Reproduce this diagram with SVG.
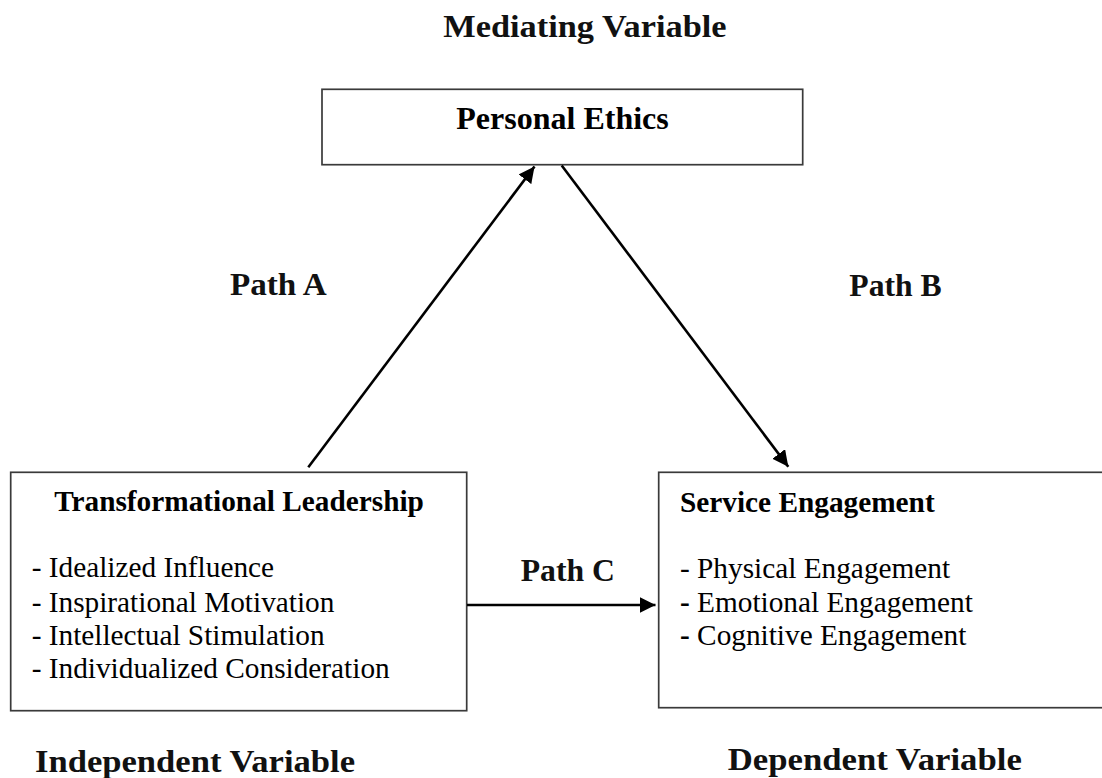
<svg xmlns="http://www.w3.org/2000/svg" width="1102" height="778" viewBox="0 0 1102 778">
  <style>
    .box { fill: #ffffff; stroke: #3a3a3a; stroke-width: 1.7; }
    .edge { fill: none; stroke: #000000; stroke-width: 2.6; }
    .label { font-family: "Liberation Serif", "Times New Roman", serif; font-weight: bold; font-size: 31.5px; fill: #111111; }
    .title { font-family: "Liberation Serif", "Times New Roman", serif; font-weight: bold; fill: #000000; }
    .item { font-family: "Liberation Serif", "Times New Roman", serif; font-size: 29.3px; fill: #000000; }
  </style>
  <defs>
    <marker id="arrow" markerUnits="userSpaceOnUse" markerWidth="19" markerHeight="17" refX="16" refY="8" orient="auto">
      <path d="M0,0 L16,8 L0,16 z" fill="#000000"/>
    </marker>
  </defs>

  <rect width="1102" height="778" fill="#ffffff"/>

  <!-- variable headings and path labels -->
  <g id="labels">
    <text class="label" x="443.3" y="37.3" textLength="283.3" lengthAdjust="spacingAndGlyphs">Mediating Variable</text>
    <text class="label" x="230" y="295" textLength="96.7" lengthAdjust="spacingAndGlyphs">Path A</text>
    <text class="label" x="849.3" y="296" textLength="92.4" lengthAdjust="spacingAndGlyphs">Path B</text>
    <text class="label" x="520.7" y="580.7" textLength="94.3" lengthAdjust="spacingAndGlyphs">Path C</text>
    <text class="label" x="35" y="771.7" textLength="320" lengthAdjust="spacingAndGlyphs">Independent Variable</text>
    <text class="label" x="727.8" y="770" textLength="294" lengthAdjust="spacingAndGlyphs">Dependent Variable</text>
  </g>

  <!-- mediator -->
  <g id="personal-ethics">
    <rect class="box" x="322" y="89.3" width="480.7" height="75.4"/>
    <text class="title" x="562.5" y="129.3" font-size="32" text-anchor="middle">Personal Ethics</text>
  </g>

  <!-- independent variable -->
  <g id="transformational-leadership">
    <rect class="box" x="10.7" y="472.3" width="456" height="238.4"/>
    <text class="title" x="239" y="510.7" font-size="29.3" text-anchor="middle">Transformational Leadership</text>
    <text class="item" x="31.7" y="577.3">- Idealized Influence</text>
    <text class="item" x="31.7" y="611.7">- Inspirational Motivation</text>
    <text class="item" x="31.7" y="645">- Intellectual Stimulation</text>
    <text class="item" x="31.7" y="678.3">- Individualized Consideration</text>
  </g>

  <!-- dependent variable (right border runs past the page edge) -->
  <g id="service-engagement">
    <rect class="box" x="658.7" y="472.3" width="456" height="235.4"/>
    <text class="title" x="680" y="511.7" font-size="29.3">Service Engagement</text>
    <text class="item" x="680" y="578.3">- Physical Engagement</text>
    <text class="item" x="680" y="611.7"><tspan font-weight="bold">-</tspan> Emotional Engagement</text>
    <text class="item" x="680" y="645"><tspan font-weight="bold">-</tspan> Cognitive Engagement</text>
  </g>

  <!-- connectors -->
  <g id="connectors">
    <line class="edge" x1="308.3" y1="467.3" x2="534.5" y2="166.5" marker-end="url(#arrow)"/>
    <line class="edge" x1="561.7" y1="165.5" x2="788.3" y2="466.7" marker-end="url(#arrow)"/>
    <line class="edge" x1="467" y1="605" x2="655.5" y2="605" marker-end="url(#arrow)"/>
  </g>
</svg>
